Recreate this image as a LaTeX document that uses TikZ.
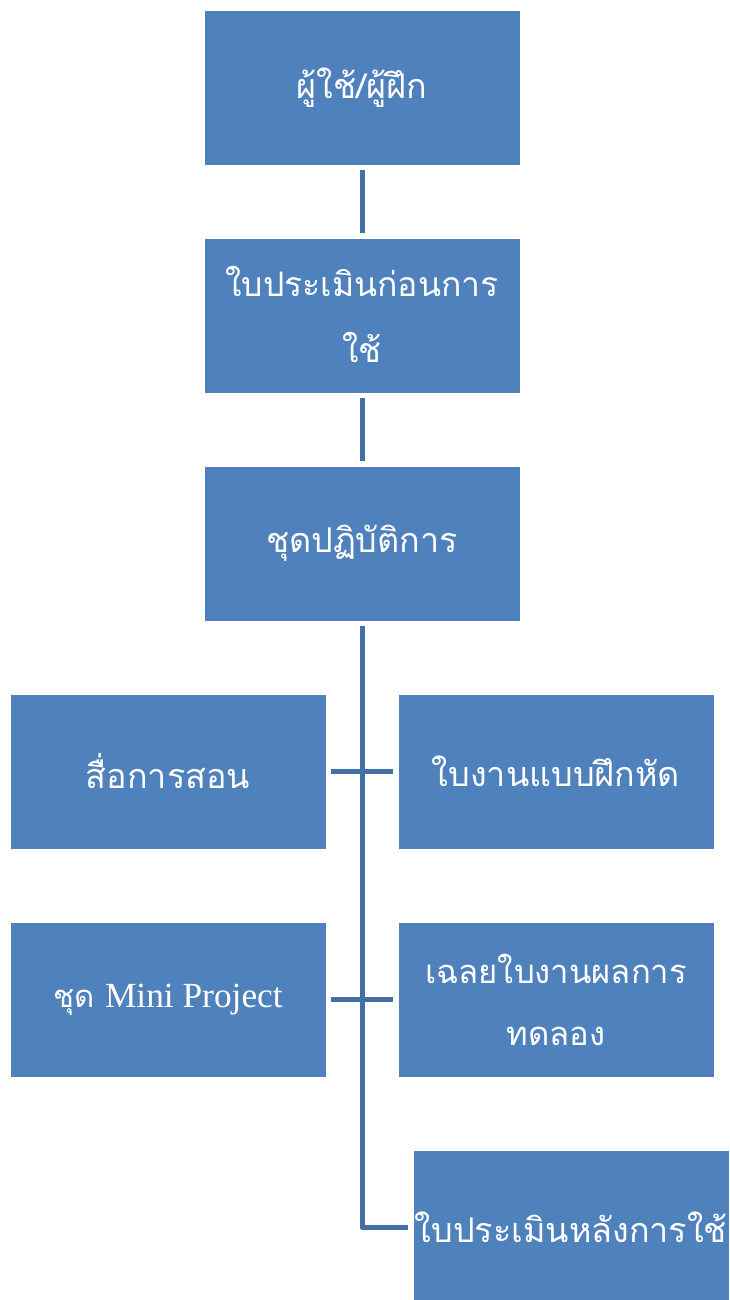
\documentclass[tikz,border=0pt]{standalone}
\usepackage{fontspec}
\setmainfont{Liberation Serif}
\newfontfamily\thai[Script=Thai]{Loma}
\definecolor{boxblue}{HTML}{4F81BD}
\definecolor{lineblue}{HTML}{4470A8}
\begin{document}
\begin{tikzpicture}[x=0.75pt,y=-0.75pt,
  box/.style={rectangle,fill=boxblue,draw=white,line width=0.5pt,inner sep=0pt,outer sep=0pt,
    minimum width=237pt,minimum height=116.25pt,text=white,align=center},
  conn/.style={draw=lineblue,line width=3.75pt,shorten <=3.75pt,shorten >=3.75pt},
  fA/.style={font=\thai\fontsize{25.6}{34}\selectfont},
  fB/.style={font=\thai\fontsize{25.3}{50}\selectfont},
  fC/.style={font=\thai\fontsize{24.6}{46.5}\selectfont}]
\useasboundingbox (0,0) rectangle (730,1300);
\node[box,fA] (top) at (362,87.5) {ผู้ใช้/ผู้ฝึก};
\node[box,fB] (pre) at (362,315.5) {\raisebox{1.5pt}{ใบประเมินก่อนการ}\\\raisebox{1.5pt}{ใช้}};
\node[box,fA] (kit) at (362,543.5) {ชุดปฏิบัติการ};
\node[box,fA] (media) at (168,771.5) {สื่อการสอน};
\node[box,fA] (work) at (556,771.5) {ใบงานแบบฝึกหัด};
\node[box,font=\thai\fontsize{23.3}{30}\selectfont] (mini) at (168,999.5) {ชุด {\rmfamily\fontsize{26.5}{30}\selectfont Mini Project}};
\node[box,fC] (ans) at (556,999.5) {เฉลยใบงานผลการ\\ทดลอง};
\node[box,fA] (post) at (571,1227.5) {ใบประเมินหลังการใช้};
\draw[conn] (top) -- (pre);
\draw[conn] (pre) -- (kit);
\draw[conn,line join=round] (kit.south) |- (post.west);
\draw[conn] (media) -- (work);
\draw[conn] (mini) -- (ans);
\end{tikzpicture}
\end{document}
